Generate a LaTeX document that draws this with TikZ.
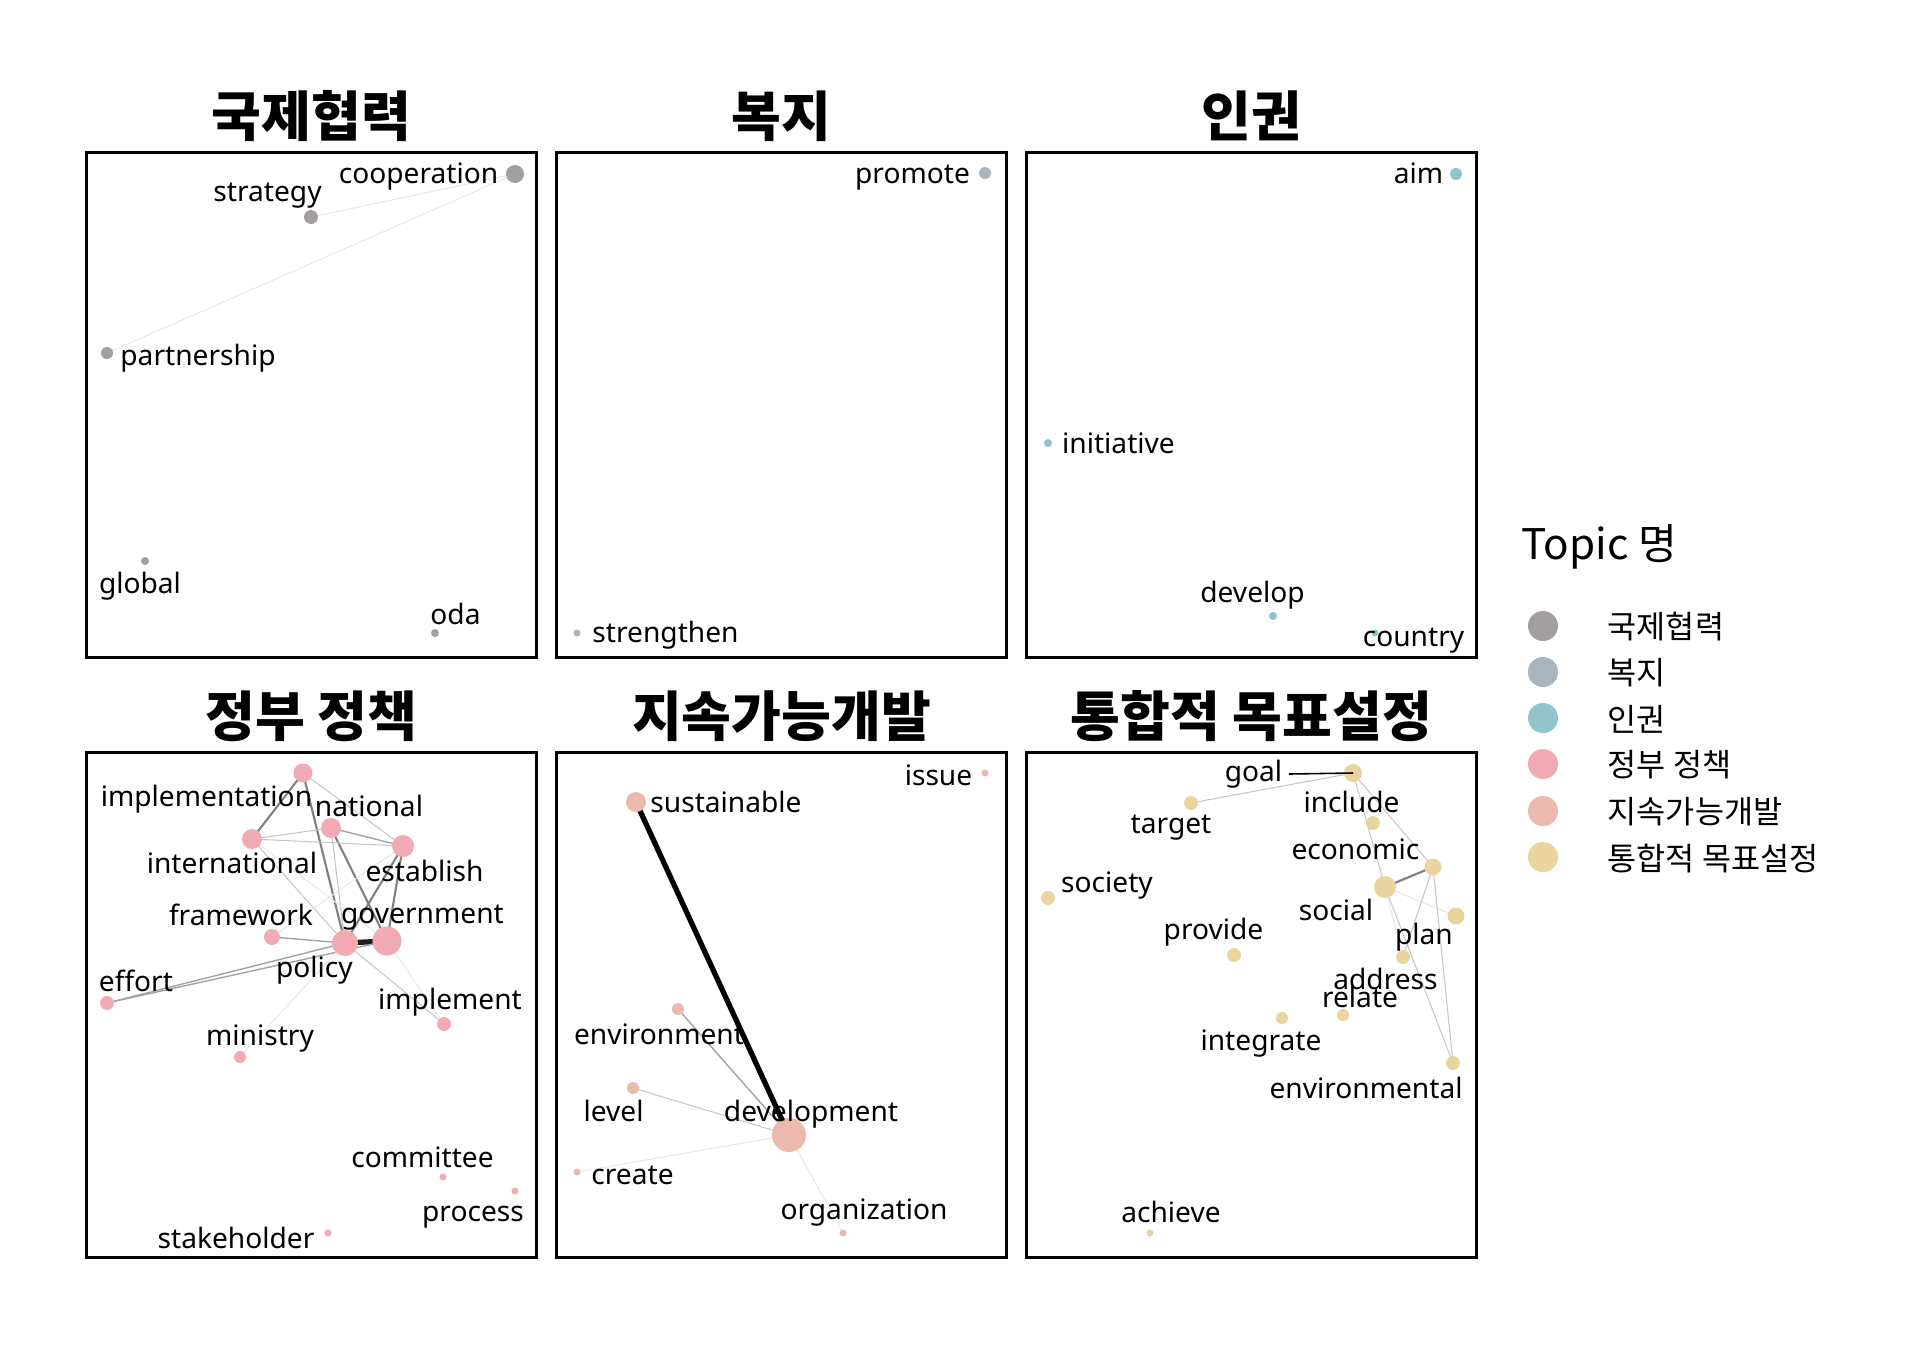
\documentclass[tikz,border=0pt]{standalone}
\usepackage{fontspec}
\setmainfont{Noto Sans}
\newfontfamily\kr{Noto Sans CJK KR}
\newcommand\lblfont{\fontsize{8pt}{9pt}\selectfont}
\newcommand\ttlfont{\kr\bfseries\fontsize{15.4pt}{17pt}\selectfont}
\newcommand\legfont{\kr\fontsize{9pt}{10pt}\selectfont}
\definecolor{cA}{HTML}{A39E9F}
\definecolor{cB}{HTML}{AAB4BE}
\definecolor{cC}{HTML}{94C4CB}
\definecolor{cD}{HTML}{F2ABB2}
\definecolor{cE}{HTML}{ECB9AF}
\definecolor{cF}{HTML}{E9D59D}
\pgfdeclarelayer{bg}
\pgfsetlayers{bg,main}
\tikzset{
  dot/.style={circle, inner sep=0pt, draw=none},
  lbl/.style={font=\lblfont, inner sep=0pt, anchor=center},
  ttl/.style={font=\ttlfont, inner sep=0pt, anchor=center},
  panel/.style={draw=black, line width=0.85pt},
  evl/.style={draw=black!9, line width=0.3pt},
  elt/.style={draw=black!22, line width=0.3pt},
  emd/.style={draw=black!36, line width=0.4pt},
  edk/.style={draw=black!50, line width=0.6pt},
  ebk/.style={draw=black!88, line width=1.5pt},
  seg/.style={draw=black, line width=0.45pt},
}
\begin{document}
\begin{tikzpicture}[x=0.01cm, y=-0.01cm]
\begin{pgfonlayer}{bg}
\fill[white] (0,0) rectangle (1920,1344);
\end{pgfonlayer}
\useasboundingbox (0,0) rectangle (1920,1344);

% ---------- panels ----------
\node[panel, minimum width=4.49cm, minimum height=5.04cm, inner sep=0pt] (P1) at (311.5,405) {};
\node[panel, minimum width=4.49cm, minimum height=5.04cm, inner sep=0pt] (P2) at (781.5,405) {};
\node[panel, minimum width=4.49cm, minimum height=5.04cm, inner sep=0pt] (P3) at (1251.5,405) {};
\node[panel, minimum width=4.49cm, minimum height=5.04cm, inner sep=0pt] (P4) at (311.5,1005) {};
\node[panel, minimum width=4.49cm, minimum height=5.04cm, inner sep=0pt] (P5) at (781.5,1005) {};
\node[panel, minimum width=4.49cm, minimum height=5.04cm, inner sep=0pt] (P6) at (1251.5,1005) {};

\node[ttl] (T1) at (311.5,116) {국제협력};
\node[ttl] (T2) at (781.5,116) {복지};
\node[ttl] (T3) at (1251.5,116) {인권};
\node[ttl] (T4) at (311.5,716) {정부 정책};
\node[ttl] (T5) at (781.5,716) {지속가능개발};
\node[ttl] (T6) at (1251.5,716) {통합적 목표설정};

% ---------- panel 1 ----------
\node[dot, fill=cA, minimum size=0.18cm] (coop) at (515,174) {};
\node[dot, fill=cA, minimum size=0.14cm] (strat) at (311,217) {};
\node[dot, fill=cA, minimum size=0.12cm] (partn) at (107,353) {};
\node[dot, fill=cA, minimum size=0.08cm] (glob) at (145,561) {};
\node[dot, fill=cA, minimum size=0.08cm] (oda) at (435,633) {};
\node[lbl] (lcoop) at (418.5,176) {cooperation};
\node[lbl] (lstrat) at (267.5,196) {strategy};
\node[lbl] (lpartn) at (198,358) {partnership};
\node[lbl] (lglob) at (140,586) {global};
\node[lbl] (loda) at (455.5,614) {oda};
\begin{pgfonlayer}{bg}
\draw[evl] (coop.center) -- (strat.center);
\draw[evl] (coop.center) -- (partn.center);
\end{pgfonlayer}

% ---------- panel 2 ----------
\node[dot, fill=cB, minimum size=0.12cm] (prom) at (985,173) {};
\node[dot, fill=cB, minimum size=0.07cm] (stren) at (577,633) {};
\node[lbl] (lprom) at (912.5,178) {promote};
\node[lbl] (lstren) at (665.5,635) {strengthen};

% ---------- panel 3 ----------
\node[dot, fill=cC, minimum size=0.12cm] (aim) at (1456,174) {};
\node[dot, fill=cC, minimum size=0.08cm] (init) at (1048,443) {};
\node[dot, fill=cC, minimum size=0.08cm] (devl) at (1273,616) {};
\node[dot, fill=cC, minimum size=0.07cm] (ctry) at (1375,633) {};
\node[lbl] (laim) at (1418.5,173) {aim};
\node[lbl] (linit) at (1118.5,443) {initiative};
\node[lbl] (ldevl) at (1252.5,595) {develop};
\node[lbl] (lctry) at (1413.5,641) {country};

% ---------- panel 4 ----------
\node[dot, fill=cD, minimum size=0.19cm] (impln) at (303,773) {};
\node[dot, fill=cD, minimum size=0.20cm] (intl) at (252,839) {};
\node[dot, fill=cD, minimum size=0.20cm] (natl) at (331,828) {};
\node[dot, fill=cD, minimum size=0.22cm] (estab) at (403,846) {};
\node[dot, fill=cD, minimum size=0.16cm] (frame) at (272,937) {};
\node[dot, fill=cD, minimum size=0.26cm] (pol) at (345,943) {};
\node[dot, fill=cD, minimum size=0.29cm] (gov) at (387,941) {};
\node[dot, fill=cD, minimum size=0.14cm] (eff) at (107,1003) {};
\node[dot, fill=cD, minimum size=0.14cm] (impl) at (444,1024) {};
\node[dot, fill=cD, minimum size=0.12cm] (mini) at (240,1057) {};
\node[dot, fill=cD, minimum size=0.07cm] (comm) at (443,1177) {};
\node[dot, fill=cD, minimum size=0.07cm] (proc) at (515,1191) {};
\node[dot, fill=cD, minimum size=0.07cm] (stake) at (328,1233) {};
\node[lbl] (limpln) at (206.5,799) {implementation};
\node[lbl] (lnatl) at (369,806) {national};
\node[lbl] (lintl) at (232,863) {international};
\node[lbl] (lestab) at (424.5,871) {establish};
\node[lbl] (lframe) at (241,915) {framework};
\node[lbl] (lgov) at (422.5,918) {government};
\node[lbl] (lpol) at (314.5,970) {policy};
\node[lbl] (leff) at (136,981) {effort};
\node[lbl] (limpl) at (450,1002) {implement};
\node[lbl] (lmini) at (260,1038) {ministry};
\node[lbl] (lcomm) at (422.5,1157) {committee};
\node[lbl] (lproc) at (473,1217) {process};
\node[lbl] (lstake) at (236,1238) {stakeholder};
\begin{pgfonlayer}{bg}
\draw[edk] (impln.center) -- (intl.center);
\draw[edk] (impln.center) -- (pol.center);
\draw[elt] (impln.center) -- (estab.center);
\draw[edk] (natl.center) -- (gov.center);
\draw[elt] (natl.center) -- (pol.center);
\draw[elt] (intl.center) -- (natl.center);
\draw[elt] (intl.center) -- (estab.center);
\draw[emd] (natl.center) -- (estab.center);
\draw[elt] (intl.center) -- (pol.center);
\draw[evl] (intl.center) -- (gov.center);
\draw[edk] (estab.center) -- (pol.center);
\draw[edk] (estab.center) -- (gov.center);
\draw[evl] (estab.center) -- (frame.center);
\draw[emd] (frame.center) -- (pol.center);
\draw[ebk] (pol.center) -- (gov.center);
\draw[emd] (eff.center) -- (pol.center);
\draw[emd] (eff.center) -- (gov.center);
\draw[elt] (pol.center) -- (impl.center);
\draw[evl] (gov.center) -- (impl.center);
\draw[evl] (pol.center) -- (mini.center);
\end{pgfonlayer}

% ---------- panel 5 ----------
\node[dot, fill=cE, minimum size=0.07cm] (issue) at (985,773) {};
\node[dot, fill=cE, minimum size=0.20cm] (sust) at (636,802) {};
\node[dot, fill=cE, minimum size=0.12cm] (envt) at (678,1009) {};
\node[dot, fill=cE, minimum size=0.12cm] (levl) at (633,1088) {};
\node[dot, fill=cE, minimum size=0.34cm] (dev) at (789,1135) {};
\node[dot, fill=cE, minimum size=0.07cm] (creat) at (577,1172) {};
\node[dot, fill=cE, minimum size=0.07cm] (org) at (843,1233) {};
\node[lbl] (lissue) at (938.5,775) {issue};
\node[lbl] (lsust) at (726,802) {sustainable};
\node[lbl] (lenvt) at (659,1034) {environment};
\node[lbl] (llevl) at (613.5,1111) {level};
\node[lbl] (ldev) at (811,1114) {development};
\node[lbl] (lcreat) at (632.5,1175) {create};
\node[lbl] (lorg) at (864,1212) {organization};
\begin{pgfonlayer}{bg}
\draw[ebk, draw=black] (sust.center) -- (dev.center);
\draw[emd] (envt.center) -- (dev.center);
\draw[elt] (levl.center) -- (dev.center);
\draw[evl] (creat.center) -- (dev.center);
\draw[evl] (org.center) -- (dev.center);
\end{pgfonlayer}

% ---------- panel 6 ----------
\node[dot, fill=cF, minimum size=0.18cm] (goal) at (1353,773) {};
\node[dot, fill=cF, minimum size=0.14cm] (targ) at (1191,803) {};
\node[dot, fill=cF, minimum size=0.14cm] (incl) at (1373,823) {};
\node[dot, fill=cF, minimum size=0.17cm] (econ) at (1433,867) {};
\node[dot, fill=cF, minimum size=0.22cm] (soc) at (1385,887) {};
\node[dot, fill=cF, minimum size=0.17cm] (plan) at (1456,916) {};
\node[dot, fill=cF, minimum size=0.14cm] (addr) at (1403,957) {};
\node[dot, fill=cF, minimum size=0.12cm] (rel) at (1343,1015) {};
\node[dot, fill=cF, minimum size=0.12cm] (integ) at (1282,1018) {};
\node[dot, fill=cF, minimum size=0.14cm] (envl) at (1453,1063) {};
\node[dot, fill=cF, minimum size=0.14cm] (socy) at (1048,898) {};
\node[dot, fill=cF, minimum size=0.14cm] (prov) at (1234,955) {};
\node[dot, fill=cF, minimum size=0.07cm] (achv) at (1150,1233) {};
\node[lbl] (lgoal) at (1253.5,774) {goal};
\node[lbl] (ltarg) at (1171,828) {target};
\node[lbl] (lincl) at (1351.5,802) {include};
\node[lbl] (lecon) at (1355.5,849) {economic};
\node[lbl] (lsoc) at (1336,910) {social};
\node[lbl] (lplan) at (1424,937) {plan};
\node[lbl] (laddr) at (1385.5,979) {address};
\node[lbl] (lrel) at (1360,997) {relate};
\node[lbl] (linteg) at (1261,1043) {integrate};
\node[lbl] (lenvl) at (1366,1088) {environmental};
\node[lbl] (lsocy) at (1107,885) {society};
\node[lbl] (lprov) at (1213.5,932) {provide};
\node[lbl] (lachv) at (1171,1212) {achieve};
\begin{pgfonlayer}{bg}
\draw[elt] (goal.center) -- (targ.center);
\draw[elt] (goal.center) -- (soc.center);
\draw[elt] (goal.center) -- (econ.center);
\draw[edk] (soc.center) -- (econ.center);
\draw[evl] (soc.center) -- (plan.center);
\draw[elt] (econ.center) -- (addr.center);
\draw[elt] (econ.center) -- (envl.center);
\draw[elt] (soc.center) -- (envl.center);
\draw[evl] (soc.center) -- (addr.center);
\end{pgfonlayer}
\draw[seg] ([xshift=0.06cm]lgoal.east) -- (goal.center);

% ---------- legend ----------
\node[font=\kr\fontsize{12pt}{13pt}\selectfont, inner sep=0pt, anchor=west] (legT) at (1521,547) {Topic 명};
\node[dot, fill=cA, minimum size=0.30cm] (k1) at (1543,626) {};
\node[dot, fill=cB, minimum size=0.30cm] (k2) at (1543,672) {};
\node[dot, fill=cC, minimum size=0.30cm] (k3) at (1543,718) {};
\node[dot, fill=cD, minimum size=0.30cm] (k4) at (1543,764) {};
\node[dot, fill=cE, minimum size=0.30cm] (k5) at (1543,811) {};
\node[dot, fill=cF, minimum size=0.30cm] (k6) at (1543,857) {};
\node[font=\legfont, inner sep=0pt, anchor=west] (kl1) at (1607,627) {국제협력};
\node[font=\legfont, inner sep=0pt, anchor=west] (kl2) at (1607,673) {복지};
\node[font=\legfont, inner sep=0pt, anchor=west] (kl3) at (1607,719) {인권};
\node[font=\legfont, inner sep=0pt, anchor=west] (kl4) at (1607,765) {정부 정책};
\node[font=\legfont, inner sep=0pt, anchor=west] (kl5) at (1607,812) {지속가능개발};
\node[font=\legfont, inner sep=0pt, anchor=west] (kl6) at (1607,858) {통합적 목표설정};
\end{tikzpicture}
\end{document}
